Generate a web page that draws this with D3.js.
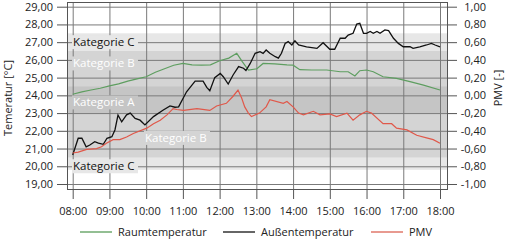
<!DOCTYPE html>
<html>
<head>
<meta charset="utf-8">
<script src="https://cdn.jsdelivr.net/npm/d3@7"></script>
<style>
body { margin: 0; background: #fff; }
text { font-family: "Open Sans", sans-serif; }
</style>
</head>
<body>
<svg class="chart" width="506" height="241"></svg>
<script>
// Achsen
var stunden = ["08:00","09:00","10:00","11:00","12:00","13:00","14:00","15:00","16:00","17:00","18:00"];
var tempTicks = [19,20,21,22,23,24,25,26,27,28,29];
var pmvTicks = [-1,-0.8,-0.6,-0.4,-0.2,0,0.2,0.4,0.6,0.8,1];

// Kategorien (in °C)
var katName = ["Kategorie C","Kategorie B","Kategorie A"];
var katVon = [19.8, 20.5, 23.0];
var katBis = [27.5, 26.5, 24.5];

// Raumtemperatur
var raumZeit = ["08:00","08:15","08:30","08:45","09:00","09:15","09:30","09:45","10:00","10:15","10:30","10:45",
	"11:00","11:15","11:30","11:45","12:00","12:15","12:28","12:37","12:47","13:01","13:11","13:30","13:50","14:00",
	"14:11","14:30","14:55","15:17","15:30","15:41","15:49","16:00","16:11","16:27","16:49","17:11","17:33","18:00"];
var raumWerte = [24.06,24.2,24.3,24.4,24.53,24.65,24.8,24.93,25.05,25.3,25.5,25.7,
	25.8,25.72,25.7,25.72,25.95,26.1,26.37,25.9,25.43,25.5,25.8,25.78,25.72,25.7,
	25.45,25.43,25.43,25.33,25.33,25.09,25.39,25.43,25.33,25.05,24.96,24.77,24.58,24.3];

// Außentemperatur
var aussenZeit = ["08:00","08:09","08:15","08:22","08:28","08:36","08:42","08:50","08:56","09:04","09:09","09:14",
	"09:20","09:28","09:34","09:42","09:50","09:58","10:12","10:28","10:39","10:47","10:53","11:06","11:20","11:33",
	"11:39","11:44","11:52","12:01","12:06","12:14","12:22","12:31","12:39","12:43","12:50","12:58","13:06","13:11",
	"13:16","13:22","13:31","13:36","13:41","13:47","13:52","13:58","14:03","14:09","14:22","14:39","14:49","15:00",
	"15:08","15:17","15:25","15:30","15:38","15:44","15:49","15:55","16:00","16:06","16:11","16:17","16:22","16:30",
	"16:36","16:44","16:52","17:00","17:11","17:16","17:27","17:38","17:46","17:52","18:00"];
var aussenWerte = [20.64,21.58,21.58,21.1,21.2,21.39,21.3,21.24,21.58,21.67,22.05,22.89,
	22.51,22.9,23.0,22.7,22.6,22.33,22.8,23.17,23.4,23.33,23.35,24.2,24.8,24.8,
	24.45,24.26,25.0,25.24,25.05,24.64,25.15,25.62,25.53,25.4,25.8,26.37,26.46,26.37,
	26.56,26.37,26.18,26.1,26.37,26.93,27.03,26.84,27.08,26.84,26.74,26.65,26.97,26.6,
	26.6,27.22,27.22,27.4,27.5,28.02,28.06,27.5,27.5,27.6,27.5,27.6,27.5,27.69,
	27.65,27.22,26.93,26.74,26.74,26.65,26.74,26.84,26.93,26.84,26.74];

// PMV
var pmvZeit = ["08:00","08:09","08:23","08:39","08:47","08:55","09:06","09:17","09:28","09:39","10:01","10:12",
	"10:23","10:34","10:44","10:50","11:01","11:23","11:44","11:55","12:11","12:22","12:30","12:36","12:41","12:47",
	"12:52","13:05","13:16","13:22","13:44","13:50","14:00","14:09","14:17","14:33","14:44","15:00","15:11","15:28",
	"15:38","15:49","16:00","16:08","16:27","16:41","16:49","17:06","17:22","17:38","17:49","18:00"];
var pmvWerte = [-0.65,-0.64,-0.61,-0.60,-0.58,-0.54,-0.50,-0.50,-0.47,-0.43,-0.37,-0.32,
	-0.28,-0.22,-0.15,-0.16,-0.17,-0.15,-0.17,-0.12,-0.09,-0.01,0.06,-0.03,-0.13,-0.20,
	-0.24,-0.20,-0.13,-0.05,-0.09,-0.07,-0.13,-0.20,-0.22,-0.18,-0.22,-0.21,-0.24,-0.20,
	-0.28,-0.22,-0.18,-0.20,-0.32,-0.32,-0.37,-0.39,-0.45,-0.48,-0.50,-0.54];

var links = 67, oben = 2, breite = 380, hoehe = 187;
var zeit = d3.timeParse("%H:%M");
var de = d3.formatLocale({decimal: ",", thousands: ".", grouping: [3], currency: ["", " €"], minus: "-"});
var fmt = de.format(".2f");

var x = d3.scaleTime().domain([zeit("08:00"), zeit("18:00")]).range([links + 5.7, links + breite - 7]);
var yT = d3.scaleLinear().domain([19, 29]).range([184, 6.7]);
var yP = d3.scaleLinear().domain([-1, 1]).range([184, 6.7]);

var chart = d3.select(".chart");
var farben = ["#e7e7e7", "#d4d4d4", "#c5c5c5"];

// Kategorie-Bänder
chart.append("g").selectAll("rect")
	.data(katName)
	.enter().append("rect")
	.attr("x", links + 1)
	.attr("width", breite - 1)
	.attr("y", function(d, i) { return yT(katBis[i]); })
	.attr("height", function(d, i) { return yT(katVon[i]) - yT(katBis[i]); })
	.attr("fill", function(d, i) { return farben[i]; });

// Gitter
chart.append("g")
	.attr("transform", "translate(" + links + ",0)")
	.call(d3.axisLeft(yT).tickValues(tempTicks).tickSize(-breite).tickFormat(""))
	.call(function(g) { g.select(".domain").remove(); g.selectAll("line").attr("stroke", "#7a7a7a"); });

chart.append("g")
	.attr("transform", "translate(0," + oben + ")")
	.call(d3.axisBottom(x).tickValues(stunden.map(zeit)).tickSize(hoehe).tickFormat(""))
	.call(function(g) { g.select(".domain").remove(); g.selectAll("line").attr("stroke", "#7a7a7a"); });

// Beschriftung der Kategorien
var katLabels = [
	{t: "Kategorie C", x: links + 6, y: 27.0, c: "#111", f: farben[0]},
	{t: "Kategorie B", x: links + 6, y: 25.8, c: "#fff", f: farben[1]},
	{t: "Kategorie A", x: links + 6, y: 23.6, c: "#fff", f: farben[2]},
	{t: "Kategorie B", x: 145, y: 21.6, c: "#fff", f: farben[1]},
	{t: "Kategorie C", x: links + 6, y: 20.0, c: "#111", f: farben[0]}
];
var lg = chart.append("g").selectAll("g").data(katLabels).enter().append("g");
lg.append("rect")
	.attr("x", function(d) { return d.x - 1; })
	.attr("y", function(d) { return yT(d.y) - 7; })
	.attr("width", 66).attr("height", 14)
	.attr("fill", function(d) { return d.f; });
lg.append("text")
	.attr("x", function(d) { return d.x; })
	.attr("y", function(d) { return yT(d.y); })
	.attr("dy", "0.35em")
	.style("font-size", "11.5px")
	.attr("fill", function(d) { return d.c; })
	.text(function(d) { return d.t; });

// Rahmen
chart.append("rect")
	.attr("x", links + 0.5).attr("y", oben + 0.5)
	.attr("width", breite).attr("height", hoehe)
	.attr("fill", "none").attr("stroke", "#555");

// Linien
function linie(zeiten, werte, skala) {
	return d3.line()
		.x(function(d, i) { return x(zeit(zeiten[i])); })
		.y(function(d) { return skala(d); })(werte);
}
chart.append("path").attr("d", linie(raumZeit, raumWerte, yT))
	.attr("fill", "none").attr("stroke", "#5e9e60").attr("stroke-width", 1.2);
chart.append("path").attr("d", linie(aussenZeit, aussenWerte, yT))
	.attr("fill", "none").attr("stroke", "#111").attr("stroke-width", 1.3);
chart.append("path").attr("d", linie(pmvZeit, pmvWerte, yP))
	.attr("fill", "none").attr("stroke", "#e0584a").attr("stroke-width", 1.2);

// Achsen
function stil(g) {
	g.select(".domain").remove();
	g.selectAll("line").attr("stroke", "#555");
	g.selectAll("text").style("font-size", "11px").attr("fill", "#222");
}
chart.append("g")
	.attr("transform", "translate(" + links + ",0)")
	.call(d3.axisLeft(yT).tickValues(tempTicks).tickSize(10).tickPadding(4).tickFormat(fmt))
	.call(stil);

chart.append("g")
	.attr("transform", "translate(" + (links + breite) + ",0)")
	.call(d3.axisRight(yP).tickValues(pmvTicks).tickSize(10).tickPadding(4).tickFormat(fmt))
	.call(stil)
	.call(function(g) { g.selectAll("text").attr("text-anchor", "end").attr("x", 39); });

chart.append("g")
	.attr("transform", "translate(0," + (oben + hoehe) + ")")
	.call(d3.axisBottom(x).tickValues(stunden.map(zeit)).tickSize(10).tickPadding(8).tickFormat(d3.timeFormat("%H:%M")))
	.call(stil);

// Achsentitel
chart.append("text")
	.attr("transform", "translate(12,98) rotate(-90)")
	.attr("text-anchor", "middle")
	.style("font-size", "11px").attr("fill", "#222")
	.text("Temeratur [°C]");

chart.append("text")
	.attr("transform", "translate(502,88) rotate(-90)")
	.attr("text-anchor", "middle")
	.style("font-size", "11px").attr("fill", "#222")
	.text("PMV [-]");

// Legende
var legName = ["Raumtemperatur", "Außentemperatur", "PMV"];
var legFarbe = ["#93bf93", "#666", "#e89a90"];
var legX = [80, 223, 371];
var leg = chart.append("g").selectAll("g").data(legName).enter().append("g");
leg.append("line")
	.attr("x1", function(d, i) { return legX[i]; })
	.attr("x2", function(d, i) { return legX[i] + 32; })
	.attr("y1", 232).attr("y2", 232)
	.attr("stroke", function(d, i) { return legFarbe[i]; })
	.attr("stroke-width", 2);
leg.append("text")
	.attr("x", function(d, i) { return legX[i] + 38; })
	.attr("y", 232).attr("dy", "0.35em")
	.style("font-size", "11px").attr("fill", "#222")
	.text(function(d) { return d; });
</script>
</body>
</html>
